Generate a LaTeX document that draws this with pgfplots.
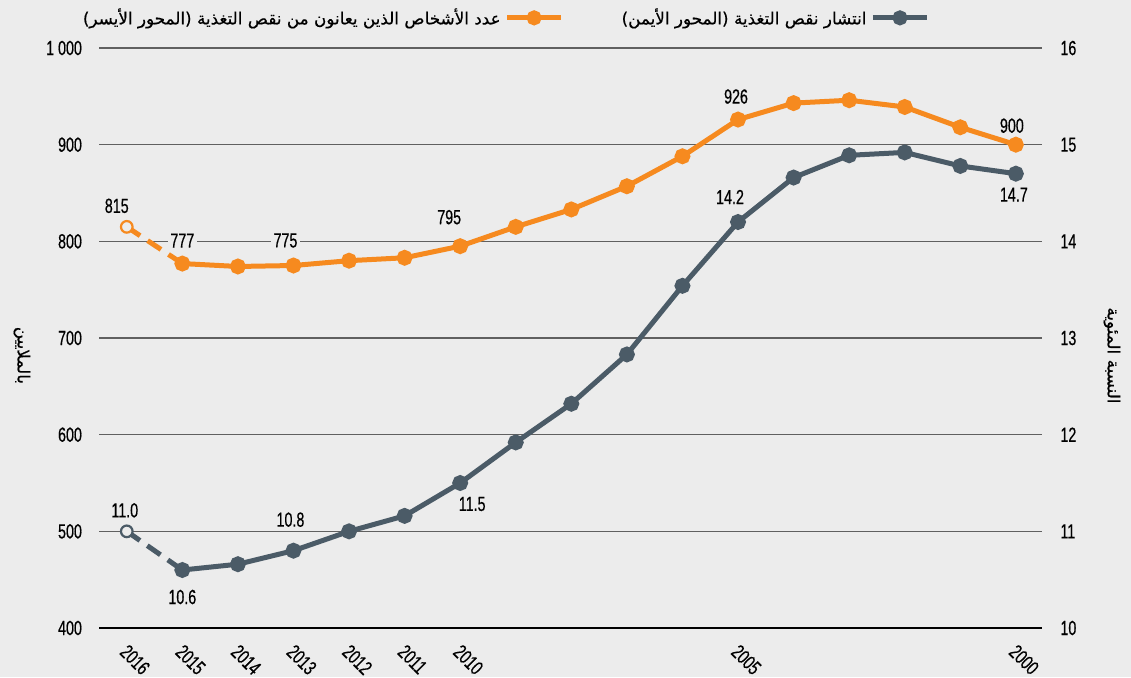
\documentclass[border=0pt]{standalone}
\usepackage{fontspec}
\setmainfont{Liberation Sans}[FakeStretch=0.7, FakeBold=0.5]
\newfontfamily\arabicfont[Script=Arabic, FakeBold=0.5]{DejaVu Sans}
\TeXXeTstate=1
\usepackage{pgfplots}
\pgfplotsset{compat=1.18}
\definecolor{bg}{HTML}{ECECEC}
\definecolor{orng}{HTML}{F68A1F}
\definecolor{slate}{HTML}{4B5B67}
\definecolor{gridc}{HTML}{606060}
\newcommand\fs{\fontsize{10.2}{11}\selectfont}
\newcommand\afs{\fontsize{8.4}{11}\selectfont}
\tikzset{lab/.style={font=\fs, fill=bg, inner sep=1.2pt, anchor=center}}
\pgfplotsset{
  common/.style={
    scale only axis, width=471.5pt, height=290pt,
    x dir=reverse, xmin=1999.53, xmax=2016.5,
    major tick length=0,
    tick label style={font=\fs},
    /pgf/number format/assume math mode=true,
    clip=false,
  },
}
\begin{document}
\begin{tikzpicture}
\fill[bg] (-49.5pt,-24.5pt) rectangle (516pt,314pt);
\begin{axis}[common,
  ymin=400, ymax=1000,
  xtick={2016,2015,2014,2013,2012,2011,2010,2005,2000},
  xticklabels={2016,2015,2014,2013,2012,2011,2010,2005,2000},
  ytick={400,500,...,1000},
  yticklabels={400,500,600,700,800,900,{1 000}},
  ymajorgrids, grid style={gridc, line width=0.6pt},
  axis x line*=bottom, axis y line*=left,
  y axis line style={draw=none},
  x axis line style={black, line width=1.2pt},
  xticklabel style={rotate=-45, anchor=north west, xshift=6pt, yshift=-4.5pt, inner sep=0pt},
  yticklabel style={xshift=-5pt},
  ylabel={\arabicfont\afs\beginR بالملايين\endR},
  every axis y label/.style={at={(axis description cs:0,0.47)}, xshift=-38.5pt, rotate=-90, anchor=center},
]
\addplot[orng, line width=2.5pt, dash pattern=on 8pt off 4.5pt] coordinates {(2016,815) (2015,777)};
\addplot[orng, line width=2.5pt, mark=*, mark size=2.7pt, mark options={solid}] coordinates {
(2015,777) (2014,774) (2013,775) (2012,780) (2011,783) (2010,795) (2009,815) (2008,833)
(2007,857) (2006,888) (2005,926) (2004,943) (2003,946) (2002,939) (2001,918) (2000,900)};
\addplot[orng, only marks, mark=*, mark size=2.9pt, mark options={fill=bg, draw=orng, line width=1.1pt}] coordinates {(2016,815)};
\node[lab, xshift=-5pt, yshift=10.5pt] at (axis cs:2016,815) {815};
\node[lab, yshift=11.5pt] at (axis cs:2015,777) {777};
\node[lab, xshift=-4pt, yshift=12.5pt] at (axis cs:2013,775) {775};
\node[lab, xshift=-5.5pt, yshift=14.5pt] at (axis cs:2010,795) {795};
\node[lab, xshift=-1pt, yshift=11.5pt] at (axis cs:2005,926) {926};
\node[lab, xshift=-2pt, yshift=9.5pt] at (axis cs:2000,900) {900};
\end{axis}
\begin{axis}[common,
  ymin=10, ymax=16,
  ytick={10,...,16},
  axis x line=none, axis y line*=right,
  y axis line style={draw=none},
  yticklabel style={xshift=5.7pt},
  ylabel={\arabicfont\afs\beginR النسبة المئوية\endR},
  every axis y label/.style={at={(axis description cs:1,0.47)}, xshift=35pt, rotate=-90, anchor=center},
  legend style={at={(axis description cs:0.4297,1.052)}, anchor=center, draw=none, fill=none,
    font=\arabicfont\afs, /tikz/column 2/.style={column sep=27pt}},
  legend columns=2, legend plot pos=right,
  legend image code/.code={\draw[mark repeat=2,mark phase=2,#1] plot coordinates {(0pt,0pt) (13.5pt,0pt) (27pt,0pt)};},
]
\addlegendimage{orng, line width=2.5pt, mark=*, mark size=2.5pt}
\addlegendentry{\beginR عدد الأشخاص الذين يعانون من نقص التغذية (المحور الأيسر)\endR}
\addlegendimage{slate, line width=2.5pt, mark=*, mark size=2.5pt}
\addlegendentry{\beginR انتشار نقص التغذية (المحور الأيمن)\endR}
\addplot[forget plot, slate, line width=2.5pt, dash pattern=on 8pt off 4.5pt] coordinates {(2016,11.0) (2015,10.6)};
\addplot[forget plot, slate, line width=2.5pt, mark=*, mark size=2.7pt, mark options={solid}] coordinates {
(2015,10.6) (2014,10.66) (2013,10.8) (2012,11.0) (2011,11.16) (2010,11.5) (2009,11.92) (2008,12.32)
(2007,12.83) (2006,13.54) (2005,14.2) (2004,14.66) (2003,14.89) (2002,14.92) (2001,14.78) (2000,14.7)};
\addplot[forget plot, slate, only marks, mark=*, mark size=2.9pt, mark options={fill=bg, draw=slate, line width=1.1pt}] coordinates {(2016,11.0)};
\node[lab, xshift=-1pt, yshift=10.5pt] at (axis cs:2016,11.0) {11.0};
\node[lab, yshift=-13.5pt] at (axis cs:2015,10.6) {10.6};
\node[lab, xshift=-1.5pt, yshift=15.5pt] at (axis cs:2013,10.8) {10.8};
\node[lab, xshift=6pt, yshift=-10.5pt] at (axis cs:2010,11.5) {11.5};
\node[lab, xshift=-4pt, yshift=12.5pt] at (axis cs:2005,14.2) {14.2};
\node[lab, xshift=-1pt, yshift=-10.5pt] at (axis cs:2000,14.7) {14.7};
\end{axis}
\pgfresetboundingbox
\useasboundingbox (-49.5pt,-24.5pt) rectangle (516pt,314pt);
\end{tikzpicture}
\end{document}
